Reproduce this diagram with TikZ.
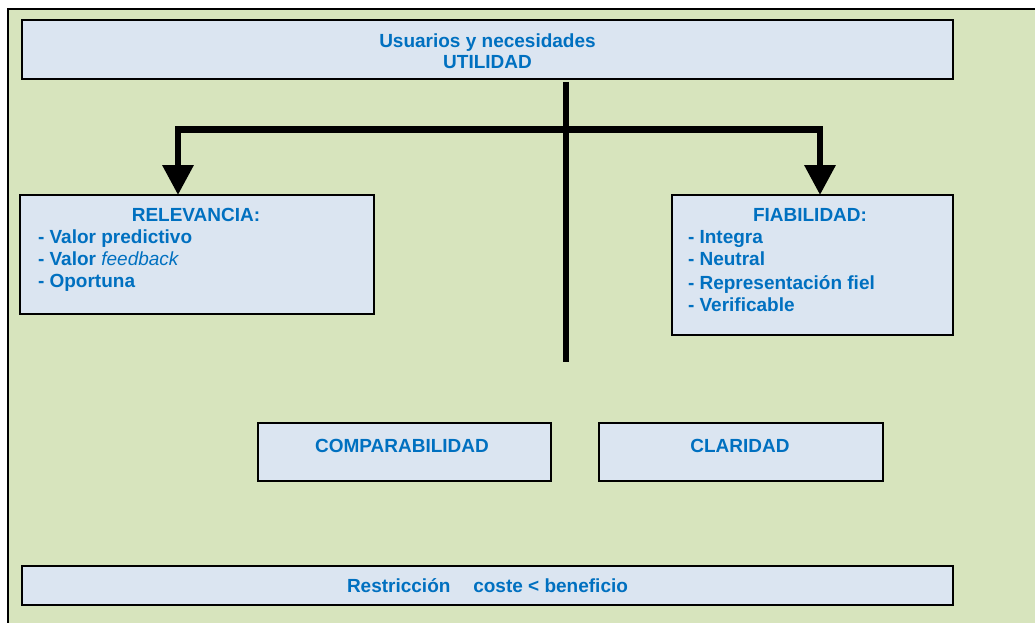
\documentclass[tikz,border=0pt]{standalone}
\usepackage{fontspec}
\setmainfont{Liberation Sans}
\usetikzlibrary{arrows.meta,calc}
\definecolor{bggreen}{HTML}{D7E4BD}
\definecolor{boxfill}{HTML}{DBE5F1}
\definecolor{txtblue}{HTML}{0070C0}
\tikzset{
  boxnode/.style={draw=black, line width=2.5pt, fill=boxfill, rectangle, inner sep=0pt, outer sep=0pt},
  txt/.style={text=txtblue, font=\fontsize{19}{21}\selectfont\bfseries, inner sep=0pt, outer sep=0pt},
  bar/.style={line width=6.5pt, black},
  conn/.style={line width=6.5pt, black, line join=miter, -{Triangle[width=30pt,length=30pt]}}
}
\begin{document}
\begin{tikzpicture}[x=1pt,y=-1pt]
\useasboundingbox (0,0) rectangle (1035,623);
\fill[white] (0,0) rectangle (1035,623);
\fill[bggreen] (8,9) rectangle (1035,623);
\draw[line width=2.5pt, black] (8,623) -- (8,9) -- (1035,9);

% boxes
\node[boxnode, minimum width=931pt, minimum height=59pt] (top) at (487.5,49.5) {};
\node[boxnode, minimum width=354pt, minimum height=119pt] (rel) at (197,254.5) {};
\node[boxnode, minimum width=281pt, minimum height=140pt] (fia) at (812.5,265) {};
\node[boxnode, minimum width=293pt, minimum height=58pt] (comp) at (404.5,452) {};
\node[boxnode, minimum width=284pt, minimum height=58pt] (clar) at (741,452) {};
\node[boxnode, minimum width=931pt, minimum height=39pt] (restr) at (487.5,585.5) {};

% texts
\node[txt, anchor=base] (t1) at (487.5,48) {Usuarios y necesidades};
\node[txt, anchor=base] (t2) at (487.5,69) {UTILIDAD};

\node[txt, anchor=base] (r0) at (196,221) {RELEVANCIA:};
\node[txt, anchor=base west] (r1) at (38,243) {- Valor predictivo};
\node[txt, anchor=base west] (r2) at (38,265) {- Valor {\mdseries\itshape feedback}};
\node[txt, anchor=base west] (r3) at (38,287) {- Oportuna};

\node[txt, anchor=base] (f0) at (810,221) {FIABILIDAD:};
\node[txt, anchor=base west] (f1) at (688,243) {- Integra};
\node[txt, anchor=base west] (f2) at (688,265) {- Neutral};
\node[txt, anchor=base west] (f3) at (688,289) {- Representación fiel};
\node[txt, anchor=base west] (f4) at (688,311) {- Verificable};

\node[txt, anchor=base] (c0) at (402,452) {COMPARABILIDAD};
\node[txt, anchor=base] (c1) at (740,452) {CLARIDAD};
\node[txt, anchor=base] (b0) at (487.5,592) {Restricción\hspace{1.2em}coste < beneficio};

% connectors
\coordinate (j) at (566,129.5);
\coordinate (vend) at (566,362);
\coordinate (ltip) at ([xshift=-19pt]rel.north);
\coordinate (rtip) at ([xshift=7.5pt]fia.north);
\draw[bar] ([yshift=-3pt]top.south -| j) -- (vend);
\draw[conn] (j) -| (ltip);
\draw[conn] (j) -| (rtip);
\end{tikzpicture}
\end{document}
